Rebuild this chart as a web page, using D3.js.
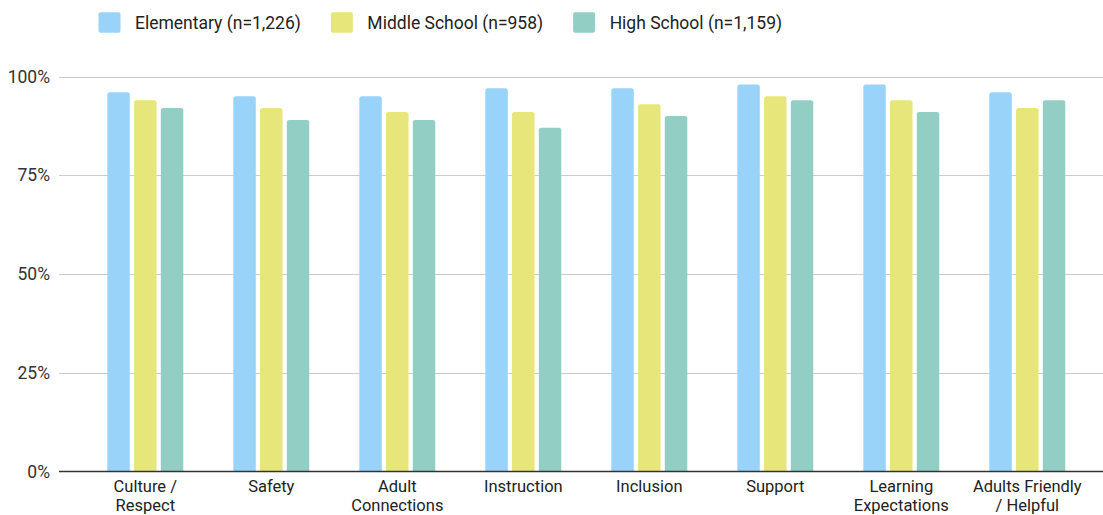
<!DOCTYPE html>
<html>
<head>
<meta charset="utf-8">
<script src="https://cdn.jsdelivr.net/npm/d3@7"></script>
<style>
  html, body { margin: 0; padding: 0; background: #fff; }
  svg { display: block; font-family: Roboto, "Noto Sans", sans-serif; }
</style>
</head>
<body>
<svg id="chart" width="1103" height="515"></svg>
<script>
const categories = [
  ["Culture /", "Respect"],
  ["Safety"],
  ["Adult", "Connections"],
  ["Instruction"],
  ["Inclusion"],
  ["Support"],
  ["Learning", "Expectations"],
  ["Adults Friendly", "/ Helpful"]
];
const seriesNames = ["Elementary (n=1,226)", "Middle School (n=958)", "High School (n=1,159)"];
const seriesColors = ["#9AD3FA", "#E6E67A", "#93CEC4"];
const elementary = [96, 95, 95, 97, 97, 98, 98, 96];
const middleSchool = [94, 92, 91, 91, 93, 95, 94, 92];
const highSchool = [92, 89, 89, 87, 90, 94, 91, 94];
const yTicks = [0, 25, 50, 75, 100];

const seriesValues = [elementary, middleSchool, highSchool];
const catKeys = categories.map(c => c.join(" "));

const svg = d3.select("#chart");
const plot = { left: 59, right: 1103, top: 76.5, bottom: 471.5 };
const FS = 17.5;
const XFS = 16.5;

const x0 = d3.scaleBand().domain(catKeys).range([82.3, 1090.3]).paddingInner(0.397).paddingOuter(0.1985);
const x1 = d3.scaleBand().domain(d3.range(seriesNames.length)).range([0, x0.bandwidth()]).paddingInner(0.16).paddingOuter(0);
const y = d3.scaleLinear().domain([0, 100]).range([plot.bottom, plot.top]);

// gridlines
svg.append("g").selectAll("line").data(yTicks.filter(t => t !== 0)).join("line")
  .attr("x1", plot.left).attr("x2", plot.right)
  .attr("y1", d => Math.round(y(d)) + 0.5).attr("y2", d => Math.round(y(d)) + 0.5)
  .attr("stroke", "#cccccc").attr("stroke-width", 1);

// y labels
svg.append("g").selectAll("text").data(yTicks).join("text")
  .attr("x", 50).attr("y", d => y(d))
  .attr("text-anchor", "end").attr("dominant-baseline", "central")
  .attr("font-size", FS).attr("fill", "#333")
  .text(d => d + "%");

// bars
function topRounded(x, yTop, w, h, r) {
  r = Math.min(r, h, w / 2);
  return `M${x},${yTop + h}V${yTop + r}Q${x},${yTop} ${x + r},${yTop}H${x + w - r}Q${x + w},${yTop} ${x + w},${yTop + r}V${yTop + h}Z`;
}
const barData = [];
catKeys.forEach((c, i) => seriesValues.forEach((vals, s) => barData.push({ c, s, v: vals[i] })));
svg.append("g").selectAll("path").data(barData).join("path")
  .attr("d", d => topRounded(x0(d.c) + x1(d.s), y(d.v), x1.bandwidth(), y(0) - y(d.v), 2.5))
  .attr("fill", d => seriesColors[d.s]);

// x axis line
svg.append("line")
  .attr("x1", plot.left).attr("x2", plot.right)
  .attr("y1", plot.bottom).attr("y2", plot.bottom)
  .attr("stroke", "#333").attr("stroke-width", 1.3);

// x labels
const xl = svg.append("g").selectAll("text").data(categories).join("text")
  .attr("x", (d, i) => x0(catKeys[i]) + x0.bandwidth() / 2)
  .attr("y", 492)
  .attr("text-anchor", "middle").attr("font-size", XFS).attr("fill", "#222");
xl.selectAll("tspan").data(d => d).join("tspan")
  .attr("x", function () { return d3.select(this.parentNode).attr("x"); })
  .attr("dy", (d, i) => i === 0 ? 0 : 19.3)
  .text(d => d);

// legend
const legend = svg.append("g");
let lx = 98.5;
seriesNames.forEach((name, i) => {
  legend.append("rect").attr("x", lx).attr("y", 12.3).attr("width", 22).attr("height", 20.5)
    .attr("rx", 2).attr("fill", seriesColors[i]);
  const t = legend.append("text").attr("x", lx + 36.5).attr("y", 22.5)
    .attr("dominant-baseline", "central").attr("font-size", FS).attr("fill", "#222").text(name);
  const w = t.node().getComputedTextLength();
  lx = lx + 36.5 + w + 30;
});
</script>
</body>
</html>
